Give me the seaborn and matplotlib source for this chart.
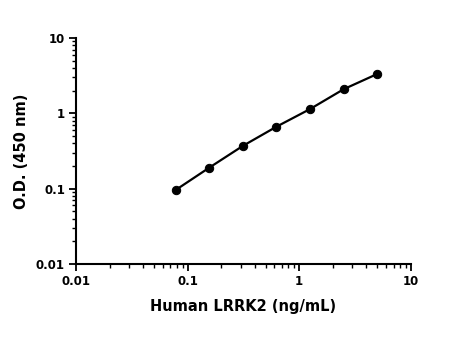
import matplotlib
matplotlib.use("Agg")
import matplotlib.pyplot as plt
import matplotlib.ticker as mticker
import seaborn as sns
import pandas as pd
import numpy as np

concentration = [0.078, 0.156, 0.3125, 0.625, 1.25, 2.5, 5.0]
od_450 = [0.096, 0.19, 0.37, 0.665, 1.14, 2.09, 3.33]
x_ticks = [0.01, 0.1, 1, 10]
x_tick_labels = ["0.01", "0.1", "1", "10"]
y_ticks = [0.01, 0.1, 1, 10]
y_tick_labels = ["0.01", "0.1", "1", "10"]

sns.set_theme(style="ticks")
plt.rcParams["font.family"] = ["DejaVu Sans"]
plt.rcParams["text.color"] = "black"
plt.rcParams["axes.labelcolor"] = "black"

df = pd.DataFrame({"conc": concentration, "od": od_450})

fig = plt.figure(figsize=(4.5, 3.39), dpi=100)
ax = fig.add_axes([0.169, 0.221, 0.744, 0.667])
sns.lineplot(data=df, x="conc", y="od", ax=ax, color="black", marker="o",
             markersize=6, linewidth=1.6, markeredgecolor="black")
ax.set_xscale("log")
ax.set_yscale("log")
ax.set_xlim(0.01, 10)
ax.set_ylim(0.01, 10)
ax.set_xticks(x_ticks)
ax.set_xticklabels(x_tick_labels)
ax.set_yticks(y_ticks)
ax.set_yticklabels(y_tick_labels)
ax.xaxis.set_minor_locator(mticker.LogLocator(base=10, subs=np.arange(2, 10)))
ax.yaxis.set_minor_locator(mticker.LogLocator(base=10, subs=np.arange(2, 10)))
ax.xaxis.set_minor_formatter(mticker.NullFormatter())
ax.yaxis.set_minor_formatter(mticker.NullFormatter())
for s in ["top", "right"]:
    ax.spines[s].set_visible(False)
for s in ["left", "bottom"]:
    ax.spines[s].set_linewidth(1.5)
    ax.spines[s].set_color("black")
ax.tick_params(axis="both", which="major", length=5, width=1.3, direction="out",
               labelsize=8.5, colors="black", pad=3)
ax.tick_params(axis="both", which="minor", length=3, width=1.0, direction="out",
               colors="black")
for lbl in ax.get_xticklabels() + ax.get_yticklabels():
    lbl.set_fontweight("bold")
ax.set_xlabel("Human LRRK2 (ng/mL)", fontsize=10.5, fontweight="bold",
              labelpad=8, color="black")
ax.set_ylabel("O.D. (450 nm)", fontsize=10.5, fontweight="bold",
              labelpad=5, color="black")
fig.savefig("out.png", dpi=100, facecolor="white")
